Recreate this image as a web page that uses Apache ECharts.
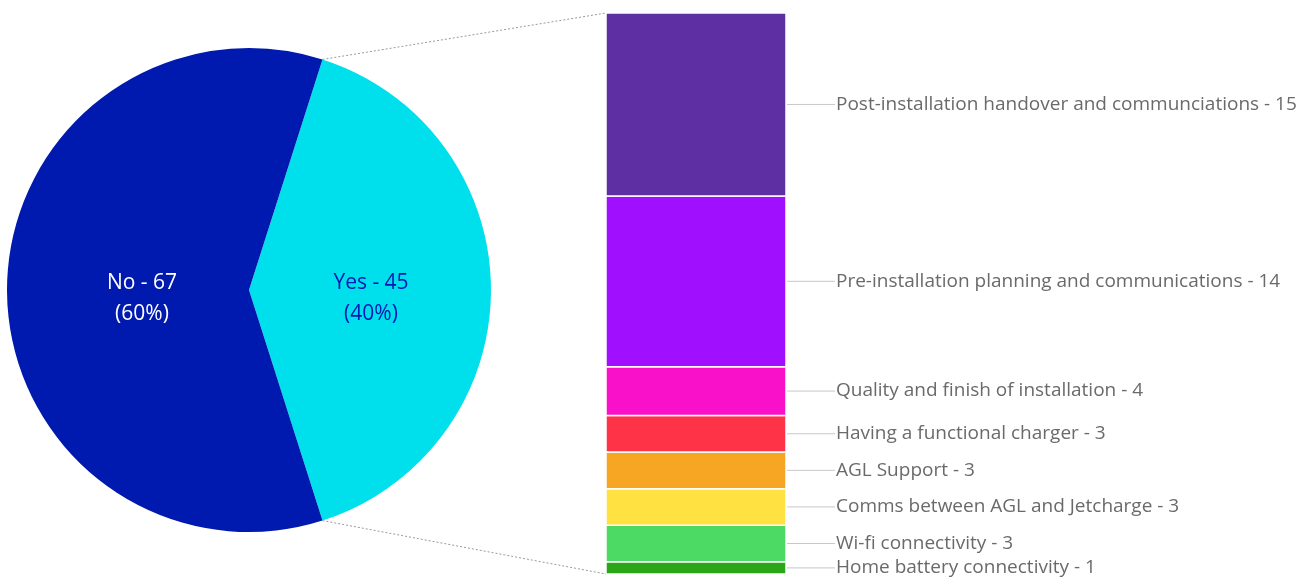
<!DOCTYPE html>
<html>
<head>
<meta charset="utf-8">
<script src="https://cdn.jsdelivr.net/npm/echarts@6/dist/echarts.min.js"></script>
<style>
  html, body { margin: 0; padding: 0; background: #fff; }
  #graph { width: 1306px; height: 579px; }
</style>
</head>
<body>
<div id="graph"></div>
<script>
// pie
var pieNames = ['Yes', 'No'];
var pieValues = [45, 67];
var pieColors = ['#00e0ec', '#001aaf'];

// bar breakdown of "Yes", bottom to top
var barNames = ['Home battery connectivity', 'Wi-fi connectivity', 'Comms between AGL and Jetcharge',
    'AGL Support', 'Having a functional charger', 'Quality and finish of installation',
    'Pre-installation planning and communications', 'Post-installation handover and communciations'];
var barValues = [1, 3, 3, 3, 3, 4, 14, 15];
var barColors = ['#2ba618', '#4cd964', '#ffe142', '#f6a623', '#fe3348', '#f910c9', '#a010ff', '#5e2fa3'];

var pieCenter = [249, 290];
var pieRadius = 242;

var total = 0;
barValues.forEach(function (v) { total += v; });

// stacked start / end for the custom bar
var barData = [];
var acc = 0;
for (var i = 0; i < barValues.length; i++) {
    barData.push({
        name: barNames[i],
        value: [0, acc, acc + barValues[i], barValues[i]],
        itemStyle: {color: barColors[i]}
    });
    acc += barValues[i];
}

// half angle of the Yes slice, centred on the right
var yesHalf = pieValues[0] / (pieValues[0] + pieValues[1]) * 180;

function piePoint(deg) {
    var a = deg * Math.PI / 180;
    return [pieCenter[0] + pieRadius * Math.cos(a), pieCenter[1] - pieRadius * Math.sin(a)];
}

function renderItem(params, api) {
    var bottom = api.coord([api.value(0), api.value(1)]);
    var top = api.coord([api.value(0), api.value(2)]);
    var w = api.size([1, 0])[0];
    var left = bottom[0] - w / 2;
    var right = bottom[0] + w / 2;
    var midY = (bottom[1] + top[1]) / 2;
    var children = [{
        type: 'rect',
        shape: {x: left, y: top[1], width: w, height: bottom[1] - top[1]},
        style: {fill: api.visual('color'), stroke: '#fff', lineWidth: 1.5}
    }, {
        type: 'line',
        shape: {x1: right + 1, y1: midY, x2: right + 49, y2: midY},
        style: {stroke: '#c8c8c8', lineWidth: 1}
    }, {
        type: 'text',
        style: {
            x: right + 50, y: midY,
            text: barNames[params.dataIndex] + ' - ' + api.value(3),
            fill: '#6a6a6a', font: '19px "Open Sans"',
            verticalAlign: 'middle', align: 'left'
        }
    }];
    // dotted connectors from the Yes slice edges
    if (params.dataIndex === barData.length - 1) {
        var p = piePoint(yesHalf);
        children.push({
            type: 'line',
            shape: {x1: p[0], y1: p[1], x2: left, y2: top[1]},
            style: {stroke: '#999', lineWidth: 1, lineDash: [2, 2]}
        });
    }
    if (params.dataIndex === 0) {
        var q = piePoint(-yesHalf);
        children.push({
            type: 'line',
            shape: {x1: q[0], y1: q[1], x2: left, y2: bottom[1]},
            style: {stroke: '#999', lineWidth: 1, lineDash: [2, 2]}
        });
    }
    return {type: 'group', children: children};
}

var option = {
    animation: false,
    textStyle: {fontFamily: 'Open Sans'},
    grid: {left: 606, width: 180, top: 13, bottom: 5},
    xAxis: {type: 'category', data: ['Yes'], show: false},
    yAxis: {type: 'value', min: 0, max: total, show: false},
    series: [{
        type: 'pie',
        center: pieCenter,
        radius: pieRadius,
        startAngle: yesHalf,
        clockwise: true,
        silent: true,
        data: pieNames.map(function (n, i) {
            return {
                name: n, value: pieValues[i],
                itemStyle: {color: pieColors[i]},
                label: {color: i === 0 ? '#0019b0' : '#fff'}
            };
        }),
        label: {
            position: 'inside',
            fontSize: 21,
            lineHeight: 31,
            fontFamily: 'Open Sans',
            formatter: function (p) {
                return p.name + ' - ' + p.value + '\n(' + Math.round(p.percent) + '%)';
            }
        },
        labelLayout: function (p) {
            return {dx: p.dataIndex === 1 ? 17 : -2, dy: 9};
        },
        labelLine: {show: false}
    }, {
        type: 'custom',
        renderItem: renderItem,
        encode: {x: 0, y: [1, 2]},
        data: barData
    }]
};

var chart = echarts.init(document.getElementById('graph'));
chart.setOption(option);
</script>
</body>
</html>
